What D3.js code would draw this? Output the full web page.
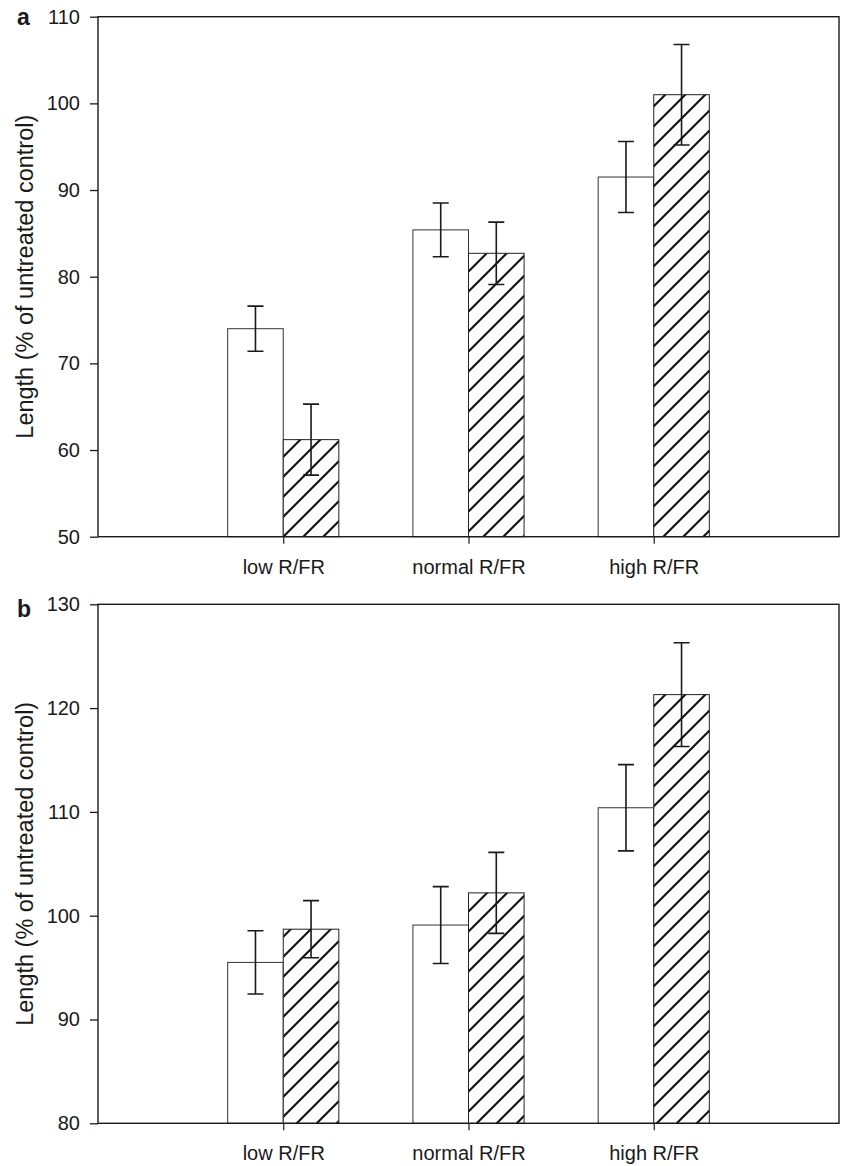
<!DOCTYPE html>
<html>
<head>
<meta charset="utf-8">
<script src="https://cdn.jsdelivr.net/npm/d3@7"></script>
<style>
  html, body { margin: 0; padding: 0; background: #fff; }
  svg { display: block; }
  text { font-family: "Liberation Sans", Arial, Helvetica, sans-serif; fill: #1a1a1a; }
</style>
</head>
<body>
<svg id="chart" width="841" height="1166"></svg>
<script>
// ---- data ----
const categories = ["low R/FR", "normal R/FR", "high R/FR"];
const seriesNames = ["open", "hatched"];

const panelA_open = [74.0, 85.4, 91.5];
const panelA_openErr = [2.6, 3.1, 4.1];
const panelA_hatched = [61.2, 82.7, 101.0];
const panelA_hatchedErr = [4.1, 3.6, 5.8];

const panelB_open = [95.5, 99.1, 110.4];
const panelB_openErr = [3.05, 3.7, 4.15];
const panelB_hatched = [98.7, 102.2, 121.3];
const panelB_hatchedErr = [2.75, 3.9, 5.0];

const yTicksA = [50, 60, 70, 80, 90, 100, 110];
const yTicksB = [80, 90, 100, 110, 120, 130];
const yLabel = "Length (% of untreated control)";

// ---- drawing ----
const svg = d3.select("#chart");
const defs = svg.append("defs");
const pat = defs.append("pattern")
  .attr("id", "hatch")
  .attr("patternUnits", "userSpaceOnUse")
  .attr("width", 20).attr("height", 20);
pat.append("rect").attr("width", 20).attr("height", 20).attr("fill", "#fff");
pat.append("path")
  .attr("d", "M-2,22 L22,-2 M-6,6 L6,-6 M14,26 L26,14")
  .attr("stroke", "#111").attr("stroke-width", 2.1).attr("fill", "none");

const left = 98, right = 839;

function drawPanel(cfg) {
  const g = svg.append("g");
  const x = d3.scaleLinear().domain([0, 4]).range([left, right]);
  const y = d3.scaleLinear().domain(cfg.domain).range([cfg.bottom, cfg.top]);
  const bw = x(0.3) - x(0);

  const rows = categories.map((c, i) => ({
    cat: c, pos: i + 1,
    open: cfg.open[i], openErr: cfg.openErr[i],
    hatched: cfg.hatched[i], hatchedErr: cfg.hatchedErr[i]
  }));

  // bars
  g.selectAll("rect.open").data(rows).join("rect")
    .attr("x", d => x(d.pos) - bw)
    .attr("y", d => y(d.open))
    .attr("width", bw)
    .attr("height", d => y(cfg.domain[0]) - y(d.open))
    .attr("fill", "#fff").attr("stroke", "#333").attr("stroke-width", 1);
  g.selectAll("rect.hatched").data(rows).join("rect")
    .attr("x", d => x(d.pos))
    .attr("y", d => y(d.hatched))
    .attr("width", bw)
    .attr("height", d => y(cfg.domain[0]) - y(d.hatched))
    .attr("fill", "url(#hatch)").attr("stroke", "#222").attr("stroke-width", 1);

  // error bars
  const errs = [];
  rows.forEach(d => {
    errs.push({ cx: x(d.pos) - bw / 2, v: d.open, e: d.openErr });
    errs.push({ cx: x(d.pos) + bw / 2, v: d.hatched, e: d.hatchedErr });
  });
  const cap = 8;
  const eg = g.append("g").attr("stroke", "#1a1a1a").attr("stroke-width", 1.6).attr("fill", "none");
  eg.selectAll("path").data(errs).join("path")
    .attr("d", d => {
      const t = y(d.v + d.e), b = y(d.v - d.e);
      return `M${d.cx},${t}V${b}M${d.cx - cap},${t}H${d.cx + cap}M${d.cx - cap},${b}H${d.cx + cap}`;
    });

  // axes
  const ya = g.append("g").attr("transform", `translate(${left},0)`)
    .call(d3.axisLeft(y).tickValues(cfg.ticks).tickSize(8).tickSizeOuter(0).tickPadding(10).tickFormat(d3.format("d")));
  ya.select(".domain").remove();
  ya.selectAll("line").attr("stroke", "#1a1a1a").attr("stroke-width", 1.3);
  ya.selectAll("text").attr("font-size", 20).attr("fill", "#1a1a1a");

  const xa = g.append("g").attr("transform", `translate(0,${cfg.bottom})`)
    .call(d3.axisBottom(x).tickValues([1, 2, 3]).tickSize(7).tickSizeOuter(0).tickPadding(16)
      .tickFormat(d => categories[d - 1]));
  xa.select(".domain").remove();
  xa.selectAll("line").attr("stroke", "#1a1a1a").attr("stroke-width", 1.2);
  xa.selectAll("text").attr("font-size", 20).attr("fill", "#1a1a1a");

  // frame
  g.append("rect")
    .attr("x", left).attr("y", cfg.top)
    .attr("width", right - left).attr("height", cfg.bottom - cfg.top)
    .attr("fill", "none").attr("stroke", "#1a1a1a").attr("stroke-width", 1.4);

  // y label
  g.append("text")
    .attr("transform", `translate(33,${(cfg.top + cfg.bottom) / 2}) rotate(-90)`)
    .attr("text-anchor", "middle")
    .attr("font-size", 23.5)
    .text(yLabel);

  // panel letter
  g.append("text")
    .attr("x", 17).attr("y", cfg.letterY)
    .attr("font-size", 23).attr("font-weight", "bold")
    .text(cfg.letter);
}

drawPanel({
  domain: [50, 110], top: 16.7, bottom: 536.7, ticks: yTicksA,
  open: panelA_open, openErr: panelA_openErr,
  hatched: panelA_hatched, hatchedErr: panelA_hatchedErr,
  letter: "a", letterY: 25
});
drawPanel({
  domain: [80, 130], top: 604.3, bottom: 1123.3, ticks: yTicksB,
  open: panelB_open, openErr: panelB_openErr,
  hatched: panelB_hatched, hatchedErr: panelB_hatchedErr,
  letter: "b", letterY: 616.5
});
</script>
</body>
</html>
